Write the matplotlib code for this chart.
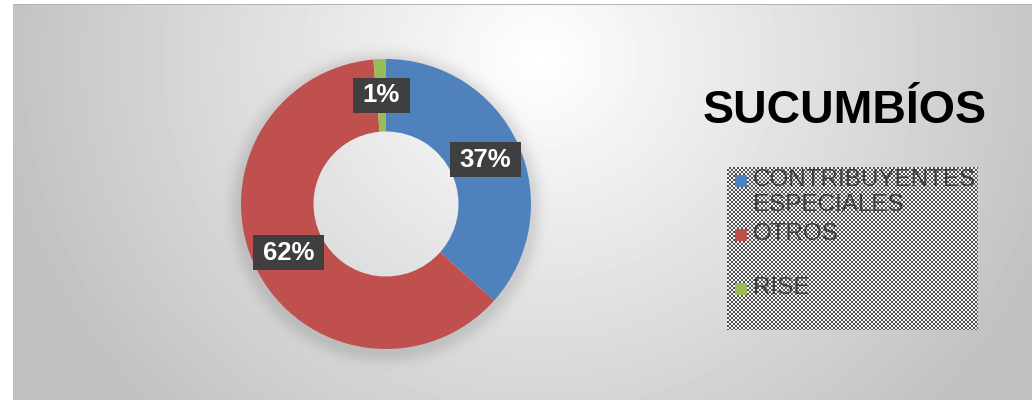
import numpy as np
import matplotlib
matplotlib.use("Agg")
import matplotlib.pyplot as plt
from matplotlib.patches import Rectangle
from matplotlib.path import Path

# ---------------- data ----------------
categories = ["CONTRIBUYENTES ESPECIALES", "OTROS", "RISE"]
legend_lines = [["CONTRIBUYENTES", "ESPECIALES"], ["OTROS"], ["RISE"]]
values = [36.6, 62.0, 1.4]
pct_labels = ["37%", "62%", "1%"]
colors = ["#4F81BD", "#C0504D", "#9BBB59"]
title = "SUCUMBÍOS"

FONT = "Liberation Sans"
W, H = 1032, 400
fig = plt.figure(figsize=(W / 100, H / 100), dpi=100, facecolor="white")

# ---------------- background (radial gradient + donut shadow) ----------------
bx0, by0 = 13, 4
xs = np.arange(bx0, W) + 0.5
ys = np.arange(by0, H) + 0.5
X, Y = np.meshgrid(xs, ys)
r = np.sqrt(((X - 540) / 560) ** 2 + ((Y - 60) / 520) ** 2)
val = 1 - 0.25 * np.clip(r, 0, 1)
cx, cy, R = 386, 204, 145
rd = np.sqrt((X - cx) ** 2 + (Y - (cy + 3)) ** 2)
val -= 0.10 * np.exp(-((rd - R) / 11) ** 2)
val[0, :] = 0.70
ax_bg = fig.add_axes([bx0 / W, 0, (W - bx0) / W, (H - by0) / H])
ax_bg.imshow(val, cmap="gray", vmin=0, vmax=1, aspect="auto", interpolation="nearest")
ax_bg.axis("off")

# ---------------- donut ----------------
ax = fig.add_axes([(cx - R) / W, (H - cy - R) / H, 2 * R / W, 2 * R / H])
ax.pie(values, colors=colors, startangle=90, counterclock=False, radius=1,
       wedgeprops=dict(width=0.5, linewidth=0))
ax.set_xlim(-1, 1)
ax.set_ylim(-1, 1)
ax.axis("off")


def make_box(padx, pady):
    def box(x0, y0, width, height, mutation_size):
        px, py = padx * mutation_size, pady * mutation_size
        verts = [(x0 - px, y0 - py), (x0 + width + px, y0 - py),
                 (x0 + width + px, y0 + height + py), (x0 - px, y0 + height + py),
                 (x0 - px, y0 - py)]
        codes = [Path.MOVETO, Path.LINETO, Path.LINETO, Path.LINETO, Path.CLOSEPOLY]
        return Path(verts, codes)
    return box


total = sum(values)
cum = 0
for v, lab in zip(values, pct_labels):
    mid = cum + v / 2
    ang = np.deg2rad(90 - 360 * mid / total)
    cum += v
    ax.text(0.75 * np.cos(ang), 0.75 * np.sin(ang), lab, ha="center", va="center",
            fontsize=18.5, fontweight="bold", color="white", family=FONT,
            bbox=dict(boxstyle=make_box(0.38, 0.22), facecolor="#3F3F3F",
                      edgecolor="none"))

# ---------------- title ----------------
fig.text(845 / W, 1 - 123 / H, title, ha="center", va="baseline", fontsize=33.5,
         fontweight="bold", family=FONT, color="black")

# ---------------- legend ----------------
lx0, ly0, lw, lh = 727, 167, 251, 163
ii, jj = np.mgrid[0:lh, 0:lw]
pattern = np.where(((ii // 2) + (jj // 2)) % 2 == 0, 0.95, 0.32)
ax_leg = fig.add_axes([lx0 / W, 1 - (ly0 + lh) / H, lw / W, lh / H])
ax_leg.imshow(pattern, cmap="gray", vmin=0, vmax=1, aspect="auto",
              interpolation="nearest")
ax_leg.axis("off")

for i, (lines, col) in enumerate(zip(legend_lines, colors)):
    mcy = 181 + 54 * i
    fig.add_artist(Rectangle((735 / W, 1 - (mcy + 6) / H), 12 / W, 12 / H,
                             transform=fig.transFigure, facecolor=col,
                             edgecolor="none", zorder=5))
    fig.text(753 / W, 1 - (mcy - 12.5) / H, "\n".join(lines), ha="left", va="top",
             fontsize=17.5, color="#404040", family=FONT, linespacing=1.2,
             zorder=6)

fig.savefig("out.png", dpi=100, facecolor="white")
